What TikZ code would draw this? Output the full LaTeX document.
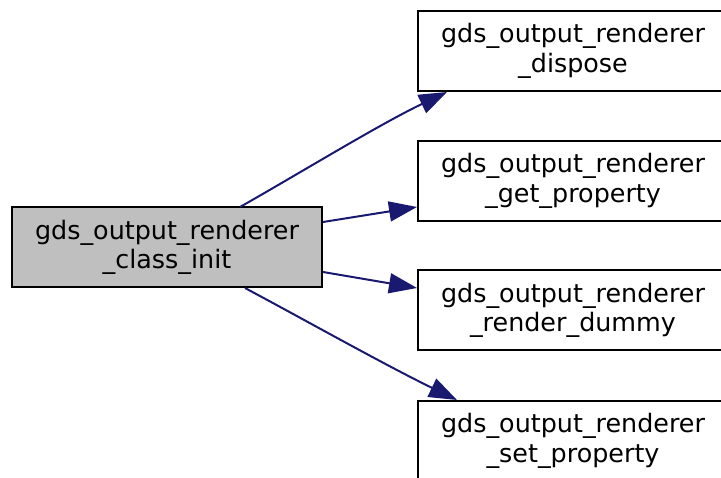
\documentclass[tikz,border=0pt]{standalone}
\usepackage{fontspec}
\setmainfont{DejaVu Sans}
\usetikzlibrary{arrows.meta}
\definecolor{edgeblue}{HTML}{191970}
\definecolor{nodegray}{HTML}{BFBFBF}
\tikzset{
  fn/.style={draw=black, line width=2pt, fill=white, minimum width=310pt,
    minimum height=80pt, inner sep=0pt, align=center,
    font=\fontsize{25.4pt}{29.5pt}\selectfont},
  cur/.style={fn, fill=nodegray},
  call/.style={draw=edgeblue, line width=2pt,
    -{Triangle[length=28pt,width=20pt]}, fill=none},
}
\begin{document}
\begin{tikzpicture}[x=1pt,y=-1pt]
  \useasboundingbox (0,0) rectangle (721,478);
  \clip (0,0) rectangle (721,478);
  \node[cur] (init) at (167,247.5) {gds\_output\_renderer\\\_class\_init};
  \node[fn] (dispose) at (573,51) {gds\_output\_renderer\\\_dispose};
  \node[fn] (getp) at (573,181) {gds\_output\_renderer\\\_get\_property};
  \node[fn] (dummy) at (573,310.5) {gds\_output\_renderer\\\_render\_dummy};
  \node[fn] (setp) at (573,441) {gds\_output\_renderer\\\_set\_property};
  \coordinate (a1) at (240,207);
  \coordinate (a4) at (245,288);
  \draw[call] (a1) .. controls (300,173) and (380,124) .. (dispose.south west -| 447,0);
  \draw[call] (init.east |- 0,222) -- (getp.west |- 0,207);
  \draw[call] (init.east |- 0,272) -- (dummy.west |- 0,288);
  \draw[call] (a4) .. controls (305,320) and (385,365) .. (setp.north west -| 457,0);
\end{tikzpicture}
\end{document}
